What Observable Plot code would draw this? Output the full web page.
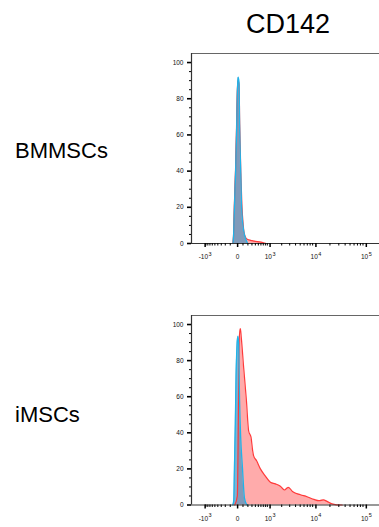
<!DOCTYPE html>
<html>
<head>
<meta charset="utf-8">
<script src="https://cdn.jsdelivr.net/npm/d3@7"></script>
<script src="https://cdn.jsdelivr.net/npm/@observablehq/plot@0.6"></script>
<style>
  html, body { margin: 0; padding: 0; background: #fff; }
  #root { position: relative; width: 379px; height: 527px; overflow: hidden; font-family: "Liberation Sans", Arial, sans-serif; }
  .lbl { position: absolute; color: #000; white-space: nowrap; line-height: 1; }
  .panel { position: absolute; left: 0; }
</style>
</head>
<body>
<div id="root">
  <div class="lbl" id="title" style="left:0;width:576px;text-align:center;top:11px;font-size:27px;">CD142</div>
  <div class="lbl" style="left:15px;top:140px;font-size:22px;">BMMSCs</div>
  <div class="lbl" style="left:15px;top:404px;font-size:22px;">iMSCs</div>
  <div class="panel" id="p1" style="top:40px;"></div>
  <div class="panel" id="p2" style="top:300px;"></div>
</div>
<script>
// ---- data (intensity on biexponential-like axis, % of max) ----
const columnTitle = "CD142";
const rowLabels = ["BMMSCs", "iMSCs"];

const xMajorTicks = [-1000, 0, 1000, 10000, 100000];
const xTickLabels = ["-10³", "0", "10³", "10⁴", "10⁵"];
const xMinorTicks = [-900, -800, -700, -600, -500, -400, -300, -200, -100,
  100, 200, 300, 400, 500, 600, 700, 800, 900,
  2000, 3000, 4000, 5000, 6000, 7000, 8000, 9000,
  20000, 30000, 40000, 50000, 60000, 70000, 80000, 90000];
const yMajorTicks = [0, 20, 40, 60, 80, 100];
const yMinorTicks = [5, 10, 15, 25, 30, 35, 45, 50, 55, 65, 70, 75, 85, 90, 95];

// BMMSCs
const bmRedX  = [-55, -44, -33, -14, 0, 10, 20, 35, 45, 62, 80, 105, 120, 175, 300, 460, 650, 760, 850];
const bmRedY  = [0, 5, 20, 42, 66, 84, 90, 88, 66, 40, 22, 10, 6, 2.5, 1.6, 1.0, 0.6, 0.2, 0];
const bmBlueX = [-52, -42, -31, -12, 2, 11, 21, 35, 43, 62, 76, 113, 167, 195];
const bmBlueY = [0, 6, 20, 42, 66, 84.5, 91.9, 89, 66, 39, 20, 7, 1.5, 0];

// iMSCs
const imRedX  = [-25, 10, 20, 30, 38, 56, 70, 113, 167, 217, 275, 320, 345, 440, 579, 801, 1080, 1429, 1867, 2300, 2800, 3500, 5047, 6900, 9600, 12000, 14800, 17500, 21900, 27000, 35000];
const imRedY  = [0, 5, 30, 70, 92, 97.8, 93, 76, 58, 41, 37.6, 30, 27.4, 24.5, 20, 16, 12.6, 11.7, 10.4, 8.3, 9.8, 7.3, 5.7, 4.6, 3.1, 2.4, 2.8, 2.0, 0.6, 0.1, 0];
const imBlueX = [-55, -40, -31, -18, -8, 5, 18, 28, 43, 60, 90, 127, 167, 190];
const imBlueY = [0, 3, 20, 45, 70, 88, 93.5, 90, 58, 38, 21, 4, 0.5, 0];

const xDomain = [-2000, 190000];
const yDomain = [0, 105];

const pts = (xs, ys) => xs.map((x, i) => ({x, y: ys[i]}));
const supMap = {"³": "3", "⁴": "4", "⁵": "5"};

function panel(red, blue, height, mTop, mBottom) {
  const font = {fontFamily: "Liberation Sans, Arial, sans-serif", fontSize: 6.5, background: "transparent", overflow: "visible", color: "#111"};
  const svg = Plot.plot({
    width: 379, height, marginLeft: 191, marginRight: 0, marginTop: mTop, marginBottom: mBottom,
    style: font,
    x: {type: "symlog", constant: 300, domain: xDomain, label: null},
    y: {domain: yDomain, label: null},
    marks: [
      Plot.areaY(red, {x: "x", y: "y", fill: "#ffabab", curve: "monotone-x"}),
      Plot.areaY(blue, {x: "x", y: "y", fill: "#4f93bf", fillOpacity: 0.72, curve: "monotone-x"}),
      Plot.lineY(red, {x: "x", y: "y", stroke: "#ff3a3a", strokeWidth: 1.2, curve: "monotone-x"}),
      Plot.lineY(blue, {x: "x", y: "y", stroke: "#1fb4ea", strokeWidth: 1.3, curve: "monotone-x"}),
      Plot.ruleY([yDomain[1]], {stroke: "#666", strokeWidth: 1}),
      Plot.ruleY([0], {stroke: "#333", strokeWidth: 1.2}),
      Plot.ruleX([xDomain[0]], {stroke: "#333", strokeWidth: 1.2}),
      Plot.axisX(xMinorTicks, {tickSize: 2.5, tickFormat: () => "", label: null, stroke: "#000", strokeWidth: 1, strokeOpacity: 1}),
      Plot.axisX(xMajorTicks, {tickSize: 4, tickPadding: 7, label: null, stroke: "#000", strokeWidth: 1.5, strokeOpacity: 1, fill: "#111", dx: 1,
        tickFormat: (d) => xTickLabels[xMajorTicks.indexOf(d)]}),
      Plot.axisY(yMinorTicks, {tickSize: 2, tickFormat: () => "", label: null, stroke: "#000", strokeWidth: 1, strokeOpacity: 1}),
      Plot.axisY(yMajorTicks, {tickSize: 4, tickPadding: 4, label: null, stroke: "#000", fill: "#111", strokeWidth: 1.6, strokeOpacity: 1,
        tickFormat: (d) => String(d)})
    ]
  });
  // render the exponent as a raised digit
  d3.select(svg).selectAll("text").each(function() {
    const t = this.textContent;
    const last = t.slice(-1);
    if (supMap[last]) {
      const sel = d3.select(this);
      sel.text(null);
      sel.append("tspan").text(t.slice(0, -1));
      sel.append("tspan").attr("dy", "-0.6em").attr("dx", "0.5").style("font-size", "5.5px").text(supMap[last]);
    }
  });
  return svg;
}

document.getElementById("p1").appendChild(panel(pts(bmRedX, bmRedY), pts(bmBlueX, bmBlueY), 230, 13, 27));
document.getElementById("p2").appendChild(panel(pts(imRedX, imRedY), pts(imBlueX, imBlueY), 227, 15, 22.5));
</script>
</body>
</html>
